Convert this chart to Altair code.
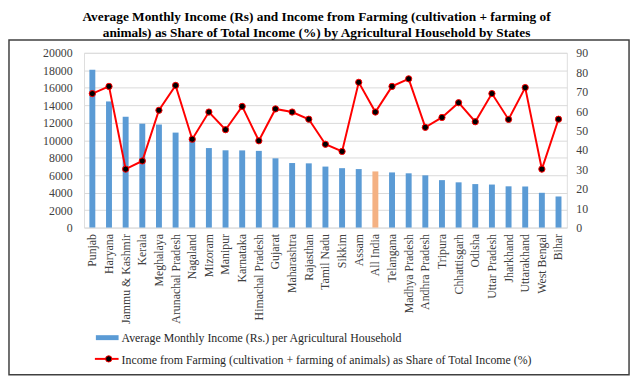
import altair as alt
import pandas as pd

states = ["Punjab", "Haryana", "Jammu & Kashmir", "Kerala", "Meghalaya", "Arunachal Pradesh",
          "Nagaland", "Mizoram", "Manipur", "Karnataka", "Himachal Pradesh", "Gujarat",
          "Maharashtra", "Rajasthan", "Tamil Nadu", "Sikkim", "Assam", "All India", "Telangana",
          "Madhya Pradesh", "Andhra Pradesh", "Tripura", "Chhattisgarh", "Odisha",
          "Uttar Pradesh", "Jharkhand", "Uttarakhand", "West Bengal", "Bihar"]
income = [18059, 14434, 12683, 11888, 11792, 10869, 10048, 9099, 8842, 8832, 8777, 7926,
          7386, 7350, 6980, 6798, 6695, 6426, 6311, 6210, 5979, 5429, 5177, 4976, 4923,
          4721, 4701, 3980, 3558]
share = [69.0, 72.7, 30.1, 34.3, 60.4, 73.2, 45.5, 59.5, 50.4, 62.4, 44.7, 61.1, 59.5,
         55.8, 42.9, 39.2, 74.8, 59.5, 72.7, 76.6, 51.6, 56.7, 64.3, 54.5, 69.0, 55.7,
         72.1, 30.1, 55.8]
highlight = "All India"
title_lines = ["Average Monthly Income (Rs) and Income  from  Farming  (cultivation + farming  of",
               "animals) as Share of Total Income (%) by Agricultural  Household by States"]
legend_labels = ["Average Monthly Income (Rs.) per Agricultural Household",
                 "Income from Farming  (cultivation + farming of animals) as Share of Total Income (%)"]

df = pd.DataFrame({"state": states, "income": income, "share": share})
df["kind"] = ["hl" if s == highlight else "normal" for s in states]

FONT = "Times New Roman, Liberation Serif, serif"
LABEL_COLOR = "#404040"

x_enc = alt.X("state:N", sort=states,
              scale=alt.Scale(paddingInner=0, paddingOuter=0),
              axis=alt.Axis(title=None, labelAngle=270, domain=False, ticks=False,
                            labelPadding=6, labelFont=FONT, labelFontSize=12,
                            labelColor=LABEL_COLOR))

bars = alt.Chart(df).mark_bar(size=6).encode(
    x=x_enc,
    y=alt.Y("income:Q", scale=alt.Scale(domain=[0, 20000], nice=False),
            axis=alt.Axis(title=None, values=list(range(0, 20001, 2000)), format="d",
                          grid=True, gridColor="#d9d9d9", gridWidth=1, domain=False,
                          ticks=False, labelPadding=12, labelFont=FONT, labelFontSize=12,
                          labelColor=LABEL_COLOR)),
    color=alt.Color("kind:N", scale=alt.Scale(domain=["normal", "hl"],
                                              range=["#5b9bd5", "#f4b183"]), legend=None),
)

base = alt.Chart(df).encode(
    x=x_enc,
    y=alt.Y("share:Q", scale=alt.Scale(domain=[0, 90], nice=False),
            axis=alt.Axis(title=None, orient="right", values=list(range(0, 91, 10)),
                          format="d", grid=False, domain=False, ticks=False, labelPadding=9,
                          labelFont=FONT, labelFontSize=12, labelColor=LABEL_COLOR)),
)
line = base.mark_line(color="#ff0000", strokeWidth=2)
pts = base.mark_circle(size=40, fill="#000000", stroke="#ff0000", strokeWidth=1, opacity=1)
right = alt.layer(line, pts)

one = pd.DataFrame({"a": [0]})
leg_bar = alt.Chart(one).mark_rect(color="#5b9bd5").encode(
    x=alt.value(12), x2=alt.value(35), y=alt.value(286), y2=alt.value(291))
leg_txt1 = alt.Chart(one).mark_text(align="left", baseline="middle", font=FONT,
                                    fontSize=12, color="#262626").encode(
    x=alt.value(38), y=alt.value(289), text=alt.value(legend_labels[0]))
leg_line = alt.Chart(one).mark_rule(color="#ff0000", strokeWidth=2).encode(
    x=alt.value(11), x2=alt.value(35), y=alt.value(310))
leg_dot = alt.Chart(one).mark_circle(size=40, fill="#000000", stroke="#ff0000",
                                     strokeWidth=1, opacity=1).encode(
    x=alt.value(25), y=alt.value(310))
leg_txt2 = alt.Chart(one).mark_text(align="left", baseline="middle", font=FONT,
                                    fontSize=12, color="#262626").encode(
    x=alt.value(38), y=alt.value(311), text=alt.value(legend_labels[1]))
border = alt.Chart(one).mark_rect(fillOpacity=0, stroke="#404040", strokeWidth=1.5).encode(
    x=alt.value(-76), x2=alt.value(552), y=alt.value(-13), y2=alt.value(326))

chart = alt.layer(bars, right, leg_bar, leg_txt1, leg_line, leg_dot, leg_txt2, border).resolve_scale(
    y="independent"
).properties(
    width=489, height=177,
    padding={"left": 77, "top": 43, "right": 66, "bottom": 152},
    autosize=alt.AutoSizeParams(type="none"),
    title=alt.TitleParams(text=title_lines, anchor="middle", dx=-9, offset=0,
                          font=FONT, fontSize=13.5, fontWeight="bold", color="#000000",
                          lineHeight=16),
).configure_view(strokeWidth=0).configure(background="white")

chart.save("out.html", embed_options={"renderer": "svg", "actions": False})
